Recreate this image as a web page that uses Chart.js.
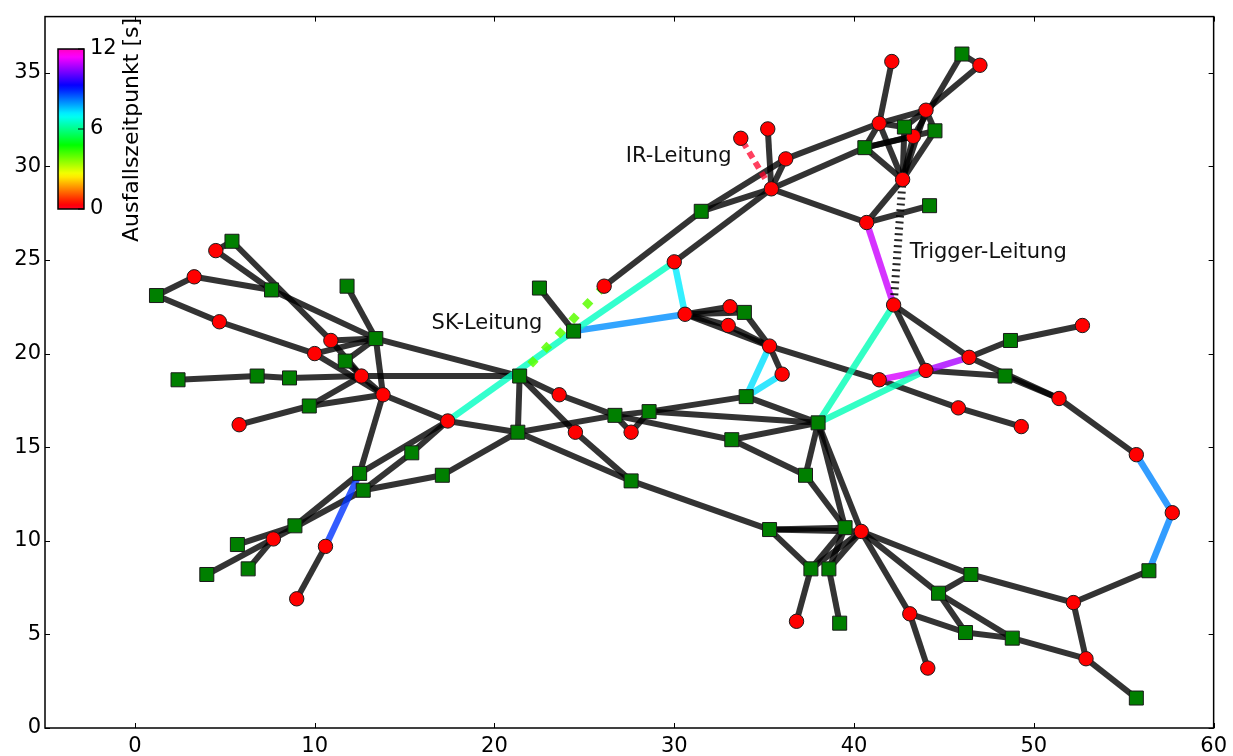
<!DOCTYPE html>
<html>
<head>
<meta charset="utf-8">
<script src="https://cdn.jsdelivr.net/npm/chart.js@4.4.1/dist/chart.umd.min.js"></script>
<style>
body { margin: 0; background: #fff; }
#wrap { width: 1233px; height: 756px; }
</style>
</head>
<body>
<div id="wrap"><canvas id="netChart"></canvas></div>
<script>
// Netzknoten
const nodeX = [1.2, 3.3, 4.5, 5.4, 4.7, 7.6, 11.8, 10.9, 10.0, 13.4, 11.7, 12.6, 2.4, 6.8, 8.6, 13.8, 9.7, 5.8, 17.4, 15.4,
  17.1, 12.5, 12.7, 8.9, 7.7, 5.7, 4.0, 6.3, 10.6, 9.0,
  21.4, 21.3, 22.5, 26.1, 24.4, 30.0, 30.6, 23.6, 26.7, 28.6, 24.5, 27.6, 27.6, 33.1, 33.0, 33.9, 35.3, 36.0, 34.0, 38.0, 33.2,
  31.5, 35.4, 36.2, 35.2, 33.7, 41.4, 42.1, 46.0, 47.0, 44.0, 42.8, 44.5, 43.3, 40.6, 42.7, 44.2, 40.7,
  42.2, 41.4, 44.0, 46.4, 48.7, 52.7, 48.4, 51.4, 45.8, 49.3, 55.7, 57.7, 56.4, 52.2, 52.9, 55.7,
  37.3, 35.3, 39.5, 40.4, 37.6, 38.6, 36.8, 39.2, 46.5, 44.7, 43.1, 46.2, 48.8, 44.1];
const nodeY = [23.1, 24.1, 25.5, 26.0, 21.7, 23.4, 23.6, 20.7, 20.0, 20.8, 19.6, 18.8, 18.6, 18.8, 18.7, 17.8, 17.2, 16.2, 16.4, 14.7,
  13.5, 13.6, 12.7, 10.8, 10.1, 9.8, 8.2, 8.5, 9.7, 6.9,
  18.8, 15.8, 23.5, 23.6, 21.2, 24.9, 22.1, 17.8, 16.7, 16.9, 15.8, 15.8, 13.2, 22.5, 21.5, 22.2, 20.4, 18.9, 17.7, 16.3, 15.4,
  27.6, 28.8, 30.4, 32.0, 31.5, 32.3, 35.6, 36.0, 35.4, 33.0, 32.1, 31.9, 31.6, 31.0, 29.3, 27.9, 27.0,
  22.6, 18.6, 19.1, 19.8, 20.7, 21.5, 18.8, 17.6, 17.1, 16.1, 14.6, 11.5, 8.4, 6.7, 3.7, 1.6,
  13.5, 10.6, 10.7, 10.5, 8.5, 8.5, 5.7, 5.6, 8.2, 7.2, 6.1, 5.1, 4.8, 3.2];
// G = Umspannwerk (Quadrat), R = Knoten (Kreis)
const nodeKind = ['G','R','R','G','R','G','G','R','R','G','G','R','G','G','G','R','G','R','R','G',
  'G','G','G','G','R','G','G','G','R','R',
  'G','G','G','R','G','R','R','R','G','G','R','R','G','R','R','G','R','R','G','G','G',
  'G','R','R','R','R','R','R','G','R','R','G','G','R','G','R','G','R',
  'R','R','R','R','G','R','G','R','R','R','R','R','G','R','R','G',
  'G','G','G','R','G','G','R','G','G','G','R','G','G','R'];

// intakte Leitungen
const lines = [[0,1],[0,4],[1,5],[2,3],[2,5],[3,7],[5,9],[4,8],[8,15],[8,9],[7,9],[6,9],[10,9],[10,11],[7,11],
  [12,13],[13,14],[14,11],[11,30],[9,30],[9,15],[11,16],[15,16],[17,16],[11,15],[15,18],[15,21],[18,31],[18,21],
  [18,19],[19,22],[21,23],[23,25],[22,24],[24,26],[24,27],[22,20],[20,31],[28,29],
  [30,31],[32,34],[30,37],[37,38],[30,40],[40,42],[31,42],[31,38],[38,39],[39,41],[38,41],[39,48],[39,49],[38,50],
  [42,85],[50,49],[48,49],[50,84],[49,84],[49,87],[49,86],[84,86],
  [33,51],[35,52],[51,53],[51,52],[52,53],[52,54],[53,56],[52,64],[52,67],[56,57],[56,60],[56,61],[56,65],[56,64],
  [64,63],[64,62],[64,65],[58,59],[58,63],[59,60],[60,65],[62,65],[63,65],[61,65],[60,61],[60,62],[67,65],[67,66],
  [36,43],[36,45],[36,44],[36,46],[43,45],[44,46],[45,46],[46,47],[46,69],[69,76],[76,77],[68,70],[68,71],[71,75],
  [70,74],[74,75],[71,72],[72,73],[75,78],
  [85,86],[85,87],[85,88],[86,88],[86,89],[87,88],[87,89],[88,90],[89,91],[87,92],[92,81],[87,93],[93,96],[93,92],
  [93,95],[87,94],[94,97],[94,95],[95,96],[96,82],[81,82],[82,83],[81,80]];

// ausgefallene Leitungen und Ausfallszeitpunkt [s]
const failedLines = [[18,34],[34,35],[35,36],[34,36],[28,21],[46,48],[47,48],[49,68],[49,70],
  [67,68],[69,70],[70,71],[80,79],[79,78]];
const failedTimes = [6.5, 6.5, 7.2, 8.0, 8.8, 7.3, 7.3, 6.4, 6.4, 11.0, 11.1, 10.7, 8.1, 8.1];

// besondere Leitungen
const skLine = [33, 30];
const skTime = 4.0;
const irLine = [55, 52];
const irTime = 0.0;
const triggerLine = [65, 68];

const labelTexts = ['SK-Leitung', 'IR-Leitung', 'Trigger-Leitung'];
const labelX = [16.5, 27.3, 43.1];
const labelY = [21.6, 30.5, 25.4];

const xTicks = [0, 10, 20, 30, 40, 50, 60];
const yTicks = [0, 5, 10, 15, 20, 25, 30, 35];
const cbarTicks = [0, 6, 12];
const cbarMax = 12;

// gist_rainbow
const cmapStops = [[0, 1, 0, 0.16], [0.03, 1, 0, 0], [0.215, 1, 1, 0], [0.4, 0, 1, 0],
  [0.586, 0, 1, 1], [0.77, 0, 0, 1], [0.954, 1, 0, 1], [1, 1, 0, 0.75]];
function cmap(t, alpha) {
    t = Math.max(0, Math.min(1, t));
    for (let i = 1; i < cmapStops.length; i++) {
        const a = cmapStops[i - 1], b = cmapStops[i];
        if (t <= b[0]) {
            const f = (t - a[0]) / (b[0] - a[0]);
            const c = [1, 2, 3].map(k => Math.round(255 * (a[k] + f * (b[k] - a[k]))));
            return 'rgba(' + c[0] + ',' + c[1] + ',' + c[2] + ',' + alpha + ')';
        }
    }
    return 'rgba(255,0,191,' + alpha + ')';
}

const pt = i => ({ x: nodeX[i], y: nodeY[i] });
function edge(pair, color, extra) {
    return Object.assign({
        data: [pt(pair[0]), pt(pair[1])],
        showLine: true,
        borderColor: color,
        borderWidth: 6,
        pointRadius: 0,
        pointHoverRadius: 0,
        order: 3
    }, extra || {});
}

const datasets = [];
lines.forEach(p => datasets.push(edge(p, 'rgba(0,0,0,0.8)')));
failedLines.forEach((p, i) => datasets.push(edge(p, cmap(failedTimes[i] / cbarMax, 0.8), { order: 2, borderWidth: 6.5 })));
datasets.push(edge(skLine, cmap(skTime / cbarMax, 0.85), { order: 1, borderWidth: 8, borderDash: [8, 12] }));
datasets.push(edge(irLine, cmap(irTime / cbarMax, 0.75), { order: 1, borderWidth: 6, borderDash: [7, 5], borderDashOffset: -4 }));
datasets.push(edge(triggerLine, 'rgba(0,0,0,0.85)', { order: 1, borderWidth: 8, borderDash: [2, 4] }));

const idx = nodeX.map((_, i) => i);
datasets.push({
    data: idx.filter(i => nodeKind[i] === 'G').map(pt),
    pointStyle: 'rect', pointRadius: 9.9, pointHoverRadius: 9.9,
    backgroundColor: '#007f00', borderColor: '#1a1a1a', borderWidth: 1, order: 0
});
datasets.push({
    data: idx.filter(i => nodeKind[i] === 'R').map(pt),
    pointStyle: 'circle', pointRadius: 7.2, pointHoverRadius: 7.2,
    backgroundColor: '#ff0000', borderColor: '#1a1a1a', borderWidth: 1, order: 0
});

const FONT = 'DejaVu Sans, sans-serif';

// Rahmen, nach innen zeigende Ticks, Farbskala und Beschriftungen
const decorPlugin = {
    id: 'decor',
    afterDraw(chart) {
        const ctx = chart.ctx;
        const a = chart.chartArea;
        const xs = chart.scales.x, ys = chart.scales.y;
        ctx.save();
        // Beschriftungen
        ctx.fillStyle = '#111';
        ctx.font = '21px ' + FONT;
        ctx.textAlign = 'left';
        ctx.textBaseline = 'middle';
        labelTexts.forEach((t, i) => ctx.fillText(t, xs.getPixelForValue(labelX[i]), ys.getPixelForValue(labelY[i])));

        // Rahmen
        ctx.strokeStyle = '#000';
        ctx.lineWidth = 1.5;
        ctx.strokeRect(a.left, a.top, a.right - a.left, a.bottom - a.top);
        ctx.lineWidth = 1;
        const tl = 5;
        ctx.beginPath();
        xTicks.forEach(v => {
            const px = Math.round(xs.getPixelForValue(v)) + 0.5;
            ctx.moveTo(px, a.bottom); ctx.lineTo(px, a.bottom - tl);
            ctx.moveTo(px, a.top); ctx.lineTo(px, a.top + tl);
        });
        yTicks.forEach(v => {
            const py = Math.round(ys.getPixelForValue(v)) + 0.5;
            ctx.moveTo(a.left, py); ctx.lineTo(a.left + tl, py);
            ctx.moveTo(a.right, py); ctx.lineTo(a.right - tl, py);
        });
        ctx.stroke();

        // Farbskala
        const bx = 58, bw = 26, btop = 49, bbot = 209;
        const g = ctx.createLinearGradient(0, bbot, 0, btop);
        for (let s = 0; s <= 40; s++) g.addColorStop(s / 40, cmap(s / 40, 1));
        ctx.fillStyle = g;
        ctx.fillRect(bx, btop, bw, bbot - btop);
        ctx.lineWidth = 1.5;
        ctx.strokeRect(bx, btop, bw, bbot - btop);
        ctx.lineWidth = 1;
        ctx.fillStyle = '#000';
        ctx.font = '21px ' + FONT;
        ctx.textAlign = 'left';
        ctx.textBaseline = 'middle';
        cbarTicks.forEach(v => {
            const py = bbot - (bbot - btop) * v / cbarMax;
            ctx.beginPath();
            ctx.moveTo(bx + bw - 6, py); ctx.lineTo(bx + bw, py);
            ctx.stroke();
            ctx.fillText(String(v), bx + bw + 6, py);
        });
        ctx.translate(132, 130);
        ctx.rotate(-Math.PI / 2);
        ctx.textAlign = 'center';
        ctx.font = '22px ' + FONT;
        ctx.fillText('Ausfallszeitpunkt [s]', 0, 0);
        ctx.restore();
    }
};

new Chart(document.getElementById('netChart'), {
    type: 'scatter',
    data: { datasets },
    options: {
        responsive: true,
        maintainAspectRatio: false,
        animation: false,
        devicePixelRatio: 1,
        layout: { padding: { top: 9, right: 17, left: 0, bottom: 0 } },
        plugins: { legend: { display: false }, tooltip: { enabled: false } },
        events: [],
        scales: {
            x: {
                type: 'linear', min: -5, max: 60,
                grid: { display: false, drawTicks: false },
                border: { display: false },
                afterBuildTicks: s => { s.ticks = xTicks.map(v => ({ value: v })); },
                afterFit: s => { s.height = 28; },
                ticks: { color: '#000', font: { family: FONT, size: 21 }, padding: 6, maxRotation: 0 }
            },
            y: {
                type: 'linear', min: 0, max: 38,
                grid: { display: false, drawTicks: false },
                border: { display: false },
                afterBuildTicks: s => { s.ticks = yTicks.map(v => ({ value: v })); },
                afterFit: s => { s.width = 45; },
                ticks: { color: '#000', font: { family: FONT, size: 21 }, padding: 4 }
            }
        }
    },
    plugins: [decorPlugin]
});
</script>
</body>
</html>
